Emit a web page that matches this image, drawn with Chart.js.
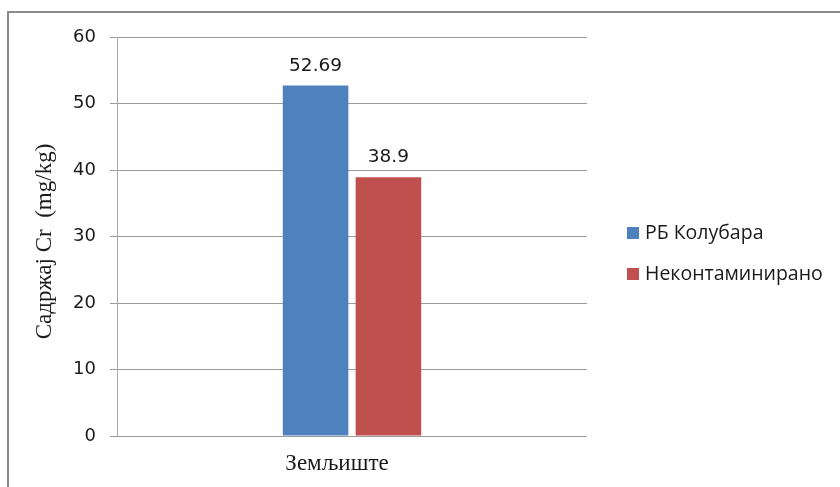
<!DOCTYPE html>
<html>
<head>
<meta charset="utf-8">
<script src="https://cdn.jsdelivr.net/npm/chart.js@4.4.1/dist/chart.umd.min.js"></script>
<style>
    html, body { margin: 0; padding: 0; background: #fff; overflow: hidden; }
    #wrap { position: relative; width: 840px; height: 487px; }
</style>
</head>
<body>
<div id="wrap"><canvas id="crChart"></canvas></div>
<script>
// Садржај Cr у земљишту
const categories = ['Земљиште'];
const seriesNames = ['РБ Колубара', 'Неконтаминирано'];
const kolubaraValues = [52.69];
const uncontaminatedValues = [38.9];
const yTicks = [0, 10, 20, 30, 40, 50, 60];

const colors = ['#4F81BD', '#C0504D'];
const yTitle = 'Садржај Cr  (mg/kg)';

// frame, axis title, value labels and the legend
const decorPlugin = {
    id: 'decor',
    beforeDraw(chart) {
        const ctx = chart.ctx;
        ctx.save();
        ctx.strokeStyle = '#8a8a8a';
        ctx.lineWidth = 2;
        ctx.strokeRect(8, 12, 900, 600);
        ctx.restore();
    },
    afterDatasetsDraw(chart) {
        const ctx = chart.ctx;
        ctx.save();

        // value above each bar
        ctx.font = '18.5px "DejaVu Sans"';
        ctx.fillStyle = '#1a1a1a';
        ctx.textAlign = 'center';
        ctx.textBaseline = 'alphabetic';
        chart.data.datasets.forEach((ds, i) => {
            chart.getDatasetMeta(i).data.forEach((bar, j) => {
                ctx.fillText(String(ds.data[j]), bar.x, bar.y - 15);
            });
        });

        // y axis title
        ctx.translate(45, chart.chartArea.top + (chart.chartArea.bottom - chart.chartArea.top) / 2 + 5);
        ctx.rotate(-Math.PI / 2);
        ctx.font = '23px "Liberation Serif"';
        ctx.textBaseline = 'middle';
        ctx.fillText(yTitle, 0, 0);
        ctx.restore();

        // legend
        ctx.save();
        ctx.font = '19.5px "Open Sans"';
        ctx.textAlign = 'left';
        ctx.textBaseline = 'middle';
        chart.data.datasets.forEach((ds, i) => {
            const y = 233 + i * 41;
            ctx.fillStyle = ds.backgroundColor;
            ctx.fillRect(627, y - 6, 12, 12);
            ctx.fillStyle = '#1a1a1a';
            ctx.fillText(ds.label, 645, y);
        });
        ctx.restore();
    }
};

new Chart(document.getElementById('crChart'), {
    type: 'bar',
    data: {
        labels: categories,
        datasets: [
            { label: seriesNames[0], data: kolubaraValues, backgroundColor: colors[0] },
            { label: seriesNames[1], data: uncontaminatedValues, backgroundColor: colors[1] }
        ]
    },
    options: {
        responsive: true,
        maintainAspectRatio: false,
        animation: false,
        categoryPercentage: 0.31,
        barPercentage: 0.9,
        layout: { padding: { top: 37, right: 253, left: 0, bottom: 0 } },
        plugins: {
            legend: { display: false },
            tooltip: { enabled: false }
        },
        scales: {
            x: {
                grid: { display: false },
                border: { display: false },
                ticks: {
                    padding: 6,
                    labelOffset: -15,
                    color: '#1a1a1a',
                    font: { family: 'Liberation Serif', size: 23 }
                },
                afterFit(scale) { scale.height = 51; }
            },
            y: {
                min: 0,
                max: 60,
                afterBuildTicks(scale) { scale.ticks = yTicks.map(v => ({ value: v })); },
                grid: { color: '#9a9a9a', tickLength: 7, tickColor: '#9a9a9a' },
                border: { color: '#a8a8a8' },
                ticks: {
                    padding: 14,
                    color: '#1a1a1a',
                    font: { family: 'DejaVu Sans', size: 18 }
                },
                afterFit(scale) { scale.width = 117; }
            }
        }
    },
    plugins: [decorPlugin]
});
</script>
</body>
</html>
